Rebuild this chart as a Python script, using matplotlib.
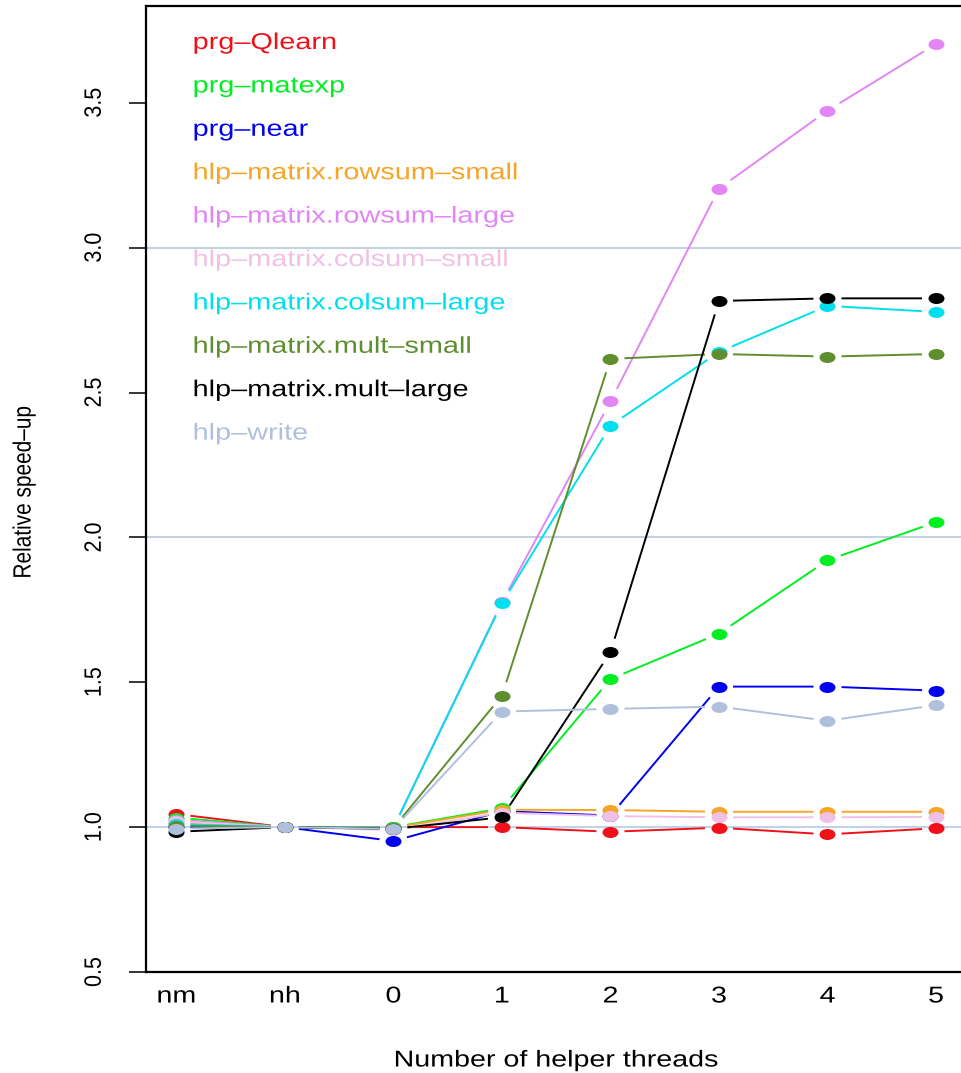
import numpy as np
import matplotlib
matplotlib.use('Agg')
import matplotlib.pyplot as plt
from matplotlib.path import Path
from matplotlib.patheffects import AbstractPathEffect
from matplotlib.transforms import Affine2D

plt.rcParams['font.family'] = ['Liberation Sans', 'DejaVu Sans']

x_labels = ['nm', 'nh', '0', '1', '2', '3', '4', '5']
names = ['prg\u2013Qlearn', 'prg\u2013matexp', 'prg\u2013near',
         'hlp\u2013matrix.rowsum\u2013small', 'hlp\u2013matrix.rowsum\u2013large',
         'hlp\u2013matrix.colsum\u2013small', 'hlp\u2013matrix.colsum\u2013large',
         'hlp\u2013matrix.mult\u2013small', 'hlp\u2013matrix.mult\u2013large',
         'hlp\u2013write']
colors = ['#F0101A', '#00EE22', '#0000F0', '#F5A528', '#E285F5',
          '#F0C0E6', '#00E0EC', '#5E8E2E', '#000000', '#B0C0DC']

qlearn = [1.045, 1.0, 1.0, 1.0, 0.984, 0.998, 0.975, 0.996]
matexp = [1.033, 1.0, 1.0, 1.065, 1.511, 1.668, 1.921, 2.053]
near = [1.0, 1.0, 0.952, 1.055, 1.04, 1.485, 1.485, 1.471]
rowsum_small = [1.013, 1.0, 0.998, 1.06, 1.059, 1.053, 1.053, 1.053]
rowsum_large = [1.025, 1.0, 0.998, 1.776, 2.469, 3.204, 3.473, 3.703]
colsum_small = [1.02, 1.0, 0.99, 1.05, 1.038, 1.034, 1.034, 1.035]
colsum_large = [1.01, 1.0, 0.998, 1.773, 2.386, 2.64, 2.799, 2.778]
mult_small = [1.005, 1.0, 0.997, 1.454, 2.616, 2.633, 2.624, 2.633]
mult_large = [0.984, 1.0, 0.994, 1.034, 1.604, 2.816, 2.825, 2.825]
write = [0.995, 1.0, 0.994, 1.399, 1.408, 1.416, 1.367, 1.421]

all_series = [qlearn, matexp, near, rowsum_small, rowsum_large,
              colsum_small, colsum_large, mult_small, mult_large, write]
ref_lines = [1, 2, 3]


class Stretch(AbstractPathEffect):
    # widen text horizontally, like the original device did
    def __init__(self, sx=1.25, anchor='left'):
        super().__init__()
        self.sx = sx
        self.anchor = anchor

    def draw_path(self, renderer, gc, tpath, affine, rgbFace=None):
        ext = tpath.get_extents(affine)
        cx = ext.x0 if self.anchor == 'left' else 0.5 * (ext.x0 + ext.x1)
        tr = affine + Affine2D().translate(-cx, 0).scale(self.sx, 1).translate(cx, 0)
        renderer.draw_path(gc, tpath, tr, rgbFace)


circ = Path.unit_circle()
ellipse = Path(circ.vertices * np.array([1.45, 1.0]), circ.codes)

W, H = 962, 1073
fig = plt.figure(figsize=(W / 100, H / 100), dpi=100)
ax = fig.add_axes([146 / W, 1 - 972 / H, (966.4 - 146) / W, (972 - 6) / H])
ax.set_xlim(0.72, 8.28)
ax.set_ylim(0.5, 3.834)

for v in ref_lines:
    ax.axhline(v, color='#B0C4DE', lw=1.1, zorder=1)

xs = np.arange(1, len(x_labels) + 1)
gap = 15.0
inv = ax.transData.inverted()
for ys, col in zip(all_series, colors):
    pts = ax.transData.transform(np.column_stack([xs, ys]))
    segs = []
    for p, q in zip(pts[:-1], pts[1:]):
        d = q - p
        L = np.hypot(*d)
        if L > 2 * gap:
            a = p + d / L * gap
            b = q - d / L * gap
            segs += [a, b, [np.nan, np.nan]]
    segs = np.array(segs)
    ok = ~np.isnan(segs[:, 0])
    dat = np.full_like(segs, np.nan)
    dat[ok] = inv.transform(segs[ok])
    ax.plot(dat[:, 0], dat[:, 1], color=col, lw=1.4, zorder=2)
    ax.plot(xs, ys, ls='none', marker=ellipse, ms=11.5, color=col,
            mec=col, mew=0, zorder=2)

for i, (nm, col) in enumerate(zip(names, colors)):
    yb = 49 + i * 43.4
    t = ax.text((193 - 146) / 820.4, (972 - yb) / 966, nm, color=col,
                fontsize=16.5, ha='left', va='baseline', transform=ax.transAxes)
    t.set_path_effects([Stretch(1.26, 'left')])

ax.set_xticks(xs)
ax.set_xticklabels(x_labels, fontsize=16.5)
ax.tick_params(axis='x', length=0, pad=9)
for lab in ax.get_xticklabels():
    lab.set_path_effects([Stretch(1.25, 'center')])

ax.set_yticks([0.5, 1.0, 1.5, 2.0, 2.5, 3.0, 3.5])
ax.set_yticklabels(['0.5', '1.0', '1.5', '2.0', '2.5', '3.0', '3.5'],
                   fontsize=15.5, rotation=90, va='center')
ax.tick_params(axis='y', length=12.5, width=1.1, pad=17)
for lab in ax.get_yticklabels():
    lab.set_path_effects([Stretch(1.1, 'center')])

ax.set_xlabel('Number of helper threads', fontsize=16.5, va='center')
ax.xaxis.set_label_coords(0.5, (972 - 1060) / 966)
ax.xaxis.label.set_path_effects([Stretch(1.25, 'center')])
ax.set_ylabel('Relative speed\u2013up', fontsize=15, va='center')
ax.yaxis.set_label_coords((24 - 146) / 820.4, (972 - 492) / 966)
ax.yaxis.label.set_path_effects([Stretch(1.2, 'center')])

for s in ['left', 'bottom', 'top', 'right']:
    ax.spines[s].set_linewidth(1.6)

fig.savefig('out.png', dpi=100)
